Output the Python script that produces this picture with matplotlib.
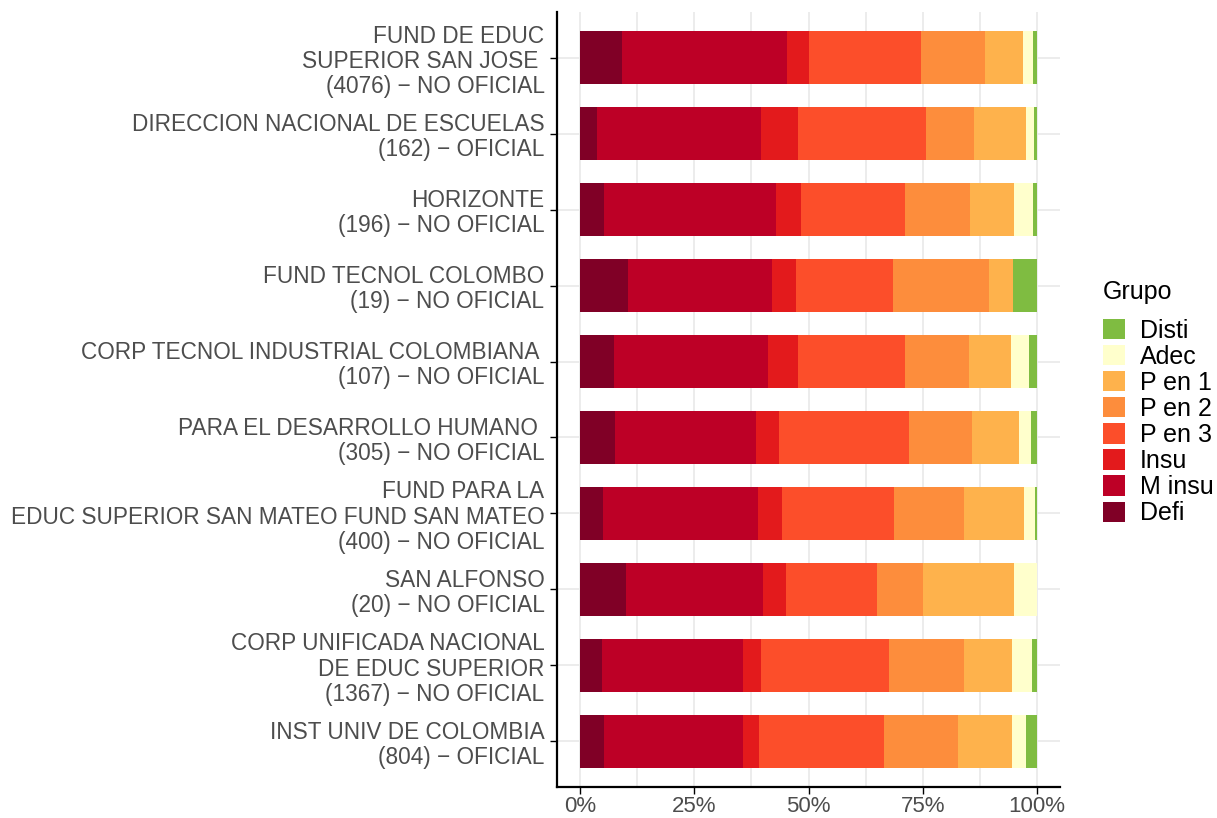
import numpy as np
import matplotlib.pyplot as plt
from matplotlib.patches import Patch

plt.rcParams['font.family'] = ['Liberation Sans', 'DejaVu Sans']

# categories, top to bottom as shown
labels = [
    "FUND DE EDUC\nSUPERIOR SAN JOSE \n(4076) \u2212 NO OFICIAL",
    "DIRECCION NACIONAL DE ESCUELAS\n(162) \u2212 OFICIAL",
    "HORIZONTE\n(196) \u2212 NO OFICIAL",
    "FUND TECNOL COLOMBO\n(19) \u2212 NO OFICIAL",
    "CORP TECNOL INDUSTRIAL COLOMBIANA \n(107) \u2212 NO OFICIAL",
    "PARA EL DESARROLLO HUMANO \n(305) \u2212 NO OFICIAL",
    "FUND PARA LA\nEDUC SUPERIOR SAN MATEO FUND SAN MATEO\n(400) \u2212 NO OFICIAL",
    "SAN ALFONSO\n(20) \u2212 NO OFICIAL",
    "CORP UNIFICADA NACIONAL\nDE EDUC SUPERIOR\n(1367) \u2212 NO OFICIAL",
    "INST UNIV DE COLOMBIA\n(804) \u2212 OFICIAL",
]

groups = ["Defi", "M insu", "Insu", "P en 3", "P en 2", "P en 1", "Adec", "Disti"]
colors = ["#800026", "#BD0026", "#E31A1C", "#FC4E2A", "#FD8D3C", "#FEB24C", "#FFFFCC", "#7FBC41"]

# percent per group (Defi ... Disti), one list per category
defi   = [9.2, 3.7, 5.3, 10.53, 7.48, 7.7, 5.0, 10.0, 4.8, 5.3]
minsu  = [36.2, 36.0, 37.7, 31.58, 33.64, 30.9, 34.0, 30.0, 30.9, 30.4]
insu   = [4.8, 7.9, 5.5, 5.26, 6.54, 5.0, 5.3, 5.0, 4.0, 3.5]
pen3   = [24.5, 28.2, 22.6, 21.05, 23.36, 28.3, 24.3, 20.0, 28.0, 27.4]
pen2   = [13.8, 10.5, 14.2, 21.05, 14.02, 13.8, 15.5, 10.0, 16.2, 16.2]
pen1   = [8.4, 11.2, 9.7, 5.26, 9.35, 10.3, 13.0, 20.0, 10.5, 11.6]
adec   = [2.2, 1.8, 4.2, 0.0, 3.74, 2.6, 2.4, 5.0, 4.4, 3.1]
disti  = [0.9, 0.7, 0.9, 5.26, 1.87, 1.4, 0.5, 0.0, 1.2, 2.5]

series = [defi, minsu, insu, pen3, pen2, pen1, adec, disti]

fig = plt.figure(figsize=(12.17, 8.18), dpi=100)
ax = fig.add_axes([557/1217, 31/818, (1060-557)/1217, (806-31)/818])

y = np.arange(len(labels))[::-1]
data = np.array(series, dtype=float)
data = data / data.sum(axis=0) * 100
left = np.zeros(len(labels))
for vals, col in zip(data, colors):
    ax.barh(y, vals, left=left, height=0.7, color=col, zorder=2)
    left += vals

ax.set_xlim(-5, 105)
ax.set_ylim(-0.6, len(labels) - 0.4)
ax.set_xticks([0, 25, 50, 75, 100])
ax.set_xticklabels(["0%", "25%", "50%", "75%", "100%"])
ax.set_xticks([12.5, 37.5, 62.5, 87.5], minor=True)
ax.set_yticks(y)
ax.set_yticklabels(labels, ha='right', linespacing=1.12)
ax.tick_params(axis='both', labelsize=16.3, length=5, width=1,
               colors='black', labelcolor='#4D4D4D')
ax.tick_params(axis='x', which='minor', length=0)
ax.tick_params(axis='y', pad=4)
ax.tick_params(axis='x', pad=1.5, labelsize=16)
ax.grid(True, which='both', axis='x', color='#EBEBEB', linewidth=1.3, zorder=0)
ax.grid(True, which='major', axis='y', color='#EBEBEB', linewidth=1.3, zorder=0)
ax.set_axisbelow(True)
for s in ['top', 'right']:
    ax.spines[s].set_visible(False)
for s in ['left', 'bottom']:
    ax.spines[s].set_linewidth(1.6)
    ax.spines[s].set_color('black')

fig.text(1103/1217, 1 - 292/818, "Grupo", fontsize=18, va='center', ha='left')
handles = [Patch(facecolor=c, edgecolor='none') for c in colors[::-1]]
leg = fig.legend(handles, groups[::-1], loc='upper left',
                 bbox_to_anchor=(1090/1217, 1 - 306/818), frameon=False,
                 fontsize=18, handlelength=0.88, handleheight=0.88,
                 labelspacing=0.085, handletextpad=0.6, borderpad=0)

fig.savefig("out.png", dpi=100)
